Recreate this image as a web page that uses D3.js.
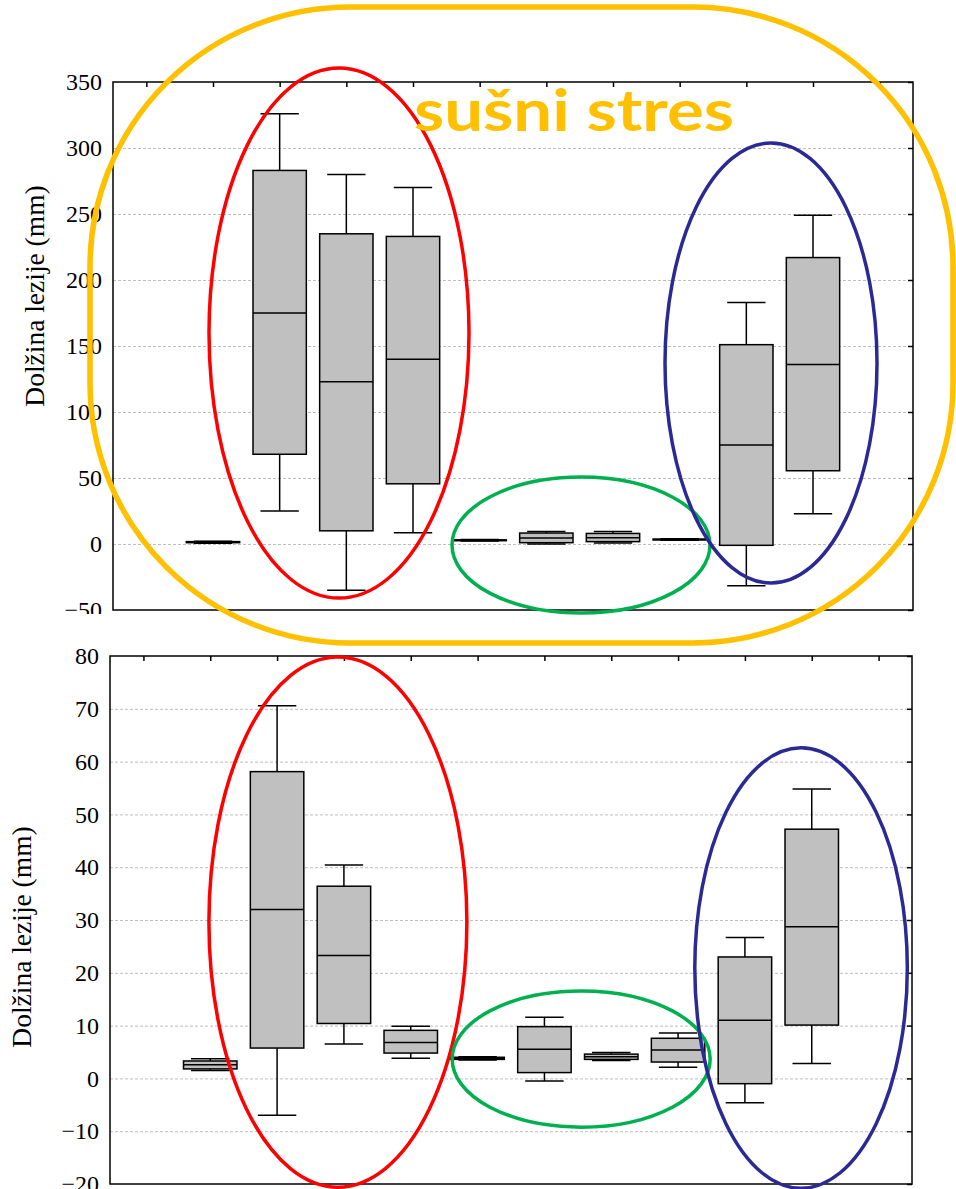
<!DOCTYPE html>
<html>
<head>
<meta charset="utf-8">
<script src="https://cdn.jsdelivr.net/npm/d3@7"></script>
<style>
  body { margin: 0; background: #fff; }
  svg { display: block; }
  .serif { font-family: "Liberation Serif", "Times New Roman", serif; }
</style>
</head>
<body>
<div id="chart"></div>
<script>
// 10 groups, placed in slots 1..10 of 12 (first and last slot empty)
const slots = d3.range(12);
const groups = d3.range(1, 11);

// top panel (sušni stres)
const topTicks = [-50, 0, 50, 100, 150, 200, 250, 300, 350];
const topMin = [0.5, 25, -35, 8.5, 2.2, 0.0, 0.8, 2.9, -31.6, 23];
const topQ1  = [1.0, 68, 10, 45.6, 2.5, 1.0, 1.8, 3.1, -1.0, 55.5];
const topMed = [1.4, 175, 123, 140, 2.8, 4.5, 4.8, 3.4, 75, 136];
const topQ3  = [1.8, 283, 235, 233, 3.1, 8.3, 8.0, 3.7, 151, 217];
const topMax = [2.1, 326, 280, 270, 3.4, 9.5, 9.5, 3.9, 183, 249];

// bottom panel
const botTicks = [-20, -10, 0, 10, 20, 30, 40, 50, 60, 70, 80];
const botMin = [1.5, -7.0, 6.5, 3.8, 3.5, -0.5, 3.4, 2.1, -4.6, 2.8];
const botQ1  = [1.8, 5.75, 10.4, 4.8, 3.6, 1.1, 3.6, 3.1, -1.0, 10.1];
const botMed = [2.6, 32, 23.3, 6.8, 3.8, 5.5, 4.1, 5.4, 11.0, 28.7];
const botQ3  = [3.3, 58.1, 36.4, 9.1, 4.0, 9.8, 4.6, 7.6, 23.0, 47.2];
const botMax = [3.7, 70.6, 40.4, 9.9, 4.1, 11.6, 4.9, 8.6, 26.7, 54.8];

const yLabel = "Dolžina lezije (mm)";
const stressLabel = "sušni stres";

const W = 956, H = 1189;
const svg = d3.select("#chart").append("svg")
  .attr("width", W).attr("height", H)
  .attr("viewBox", "0 0 " + W + " " + H);

function drawPanel(p) {
  const x = d3.scaleLinear().domain([-0.5, 11.5]).range([p.left, p.right]);
  const y = d3.scaleLinear().domain(d3.extent(p.ticks)).range([p.bottom, p.top]);
  const w = p.right - p.left;
  const slotW = x(1) - x(0);

  const g = svg.append("g");

  if (p.bg) {
    g.append("rect").attr("x", 0).attr("y", p.bgTop)
      .attr("width", W).attr("height", H - p.bgTop).attr("fill", "#fff");
  }

  // grid
  g.append("g")
    .attr("transform", "translate(" + p.left + ",0)")
    .call(d3.axisLeft(y).tickValues(p.ticks.slice(1, -1)).tickSize(-w).tickFormat(""))
    .call(s => s.select(".domain").remove())
    .call(s => s.selectAll("line").attr("stroke", "#bdbdbd").attr("stroke-dasharray", "3,2").attr("stroke-width", 1));

  // left labels
  g.append("g")
    .attr("transform", "translate(" + p.left + ",0)")
    .call(d3.axisLeft(y).tickValues(p.ticks).tickSize(0).tickPadding(11))
    .call(s => s.select(".domain").remove())
    .call(s => s.attr("font-family", null).attr("font-size", null))
    .call(s => s.selectAll("text").attr("class", "serif").style("font-size", "24px").attr("fill", "#000"));

  // right ticks (inward)
  g.append("g")
    .attr("transform", "translate(" + p.right + ",0)")
    .call(d3.axisRight(y).tickValues(p.ticks).tickSize(-5).tickFormat(""))
    .call(s => s.select(".domain").remove())
    .call(s => s.selectAll("line").attr("stroke", "#000").attr("stroke-width", 1.5));

  // top ticks (inward)
  g.append("g")
    .attr("transform", "translate(0," + p.top + ")")
    .call(d3.axisTop(x).tickValues(slots).tickSize(-5).tickFormat(""))
    .call(s => s.select(".domain").remove())
    .call(s => s.selectAll("line").attr("stroke", "#000").attr("stroke-width", 1.5));

  // boxes
  const rows = groups.map((k, i) => ({
    k: k, min: p.min[i], q1: p.q1[i], med: p.med[i], q3: p.q3[i], max: p.max[i]
  }));
  const bw = slotW * 0.8, cw = slotW * 0.575;
  const box = g.append("g").selectAll("g").data(rows).join("g")
    .attr("stroke", "#000").attr("stroke-width", 1.5);
  box.append("line")
    .attr("x1", d => x(d.k)).attr("x2", d => x(d.k))
    .attr("y1", d => y(d.max)).attr("y2", d => y(d.min));
  box.append("line")
    .attr("x1", d => x(d.k) - cw / 2).attr("x2", d => x(d.k) + cw / 2)
    .attr("y1", d => y(d.max)).attr("y2", d => y(d.max));
  box.append("line")
    .attr("x1", d => x(d.k) - cw / 2).attr("x2", d => x(d.k) + cw / 2)
    .attr("y1", d => y(d.min)).attr("y2", d => y(d.min));
  box.append("rect")
    .attr("x", d => x(d.k) - bw / 2).attr("width", bw)
    .attr("y", d => y(d.q3)).attr("height", d => y(d.q1) - y(d.q3))
    .attr("fill", "#c0c0c0");
  box.append("line")
    .attr("x1", d => x(d.k) - bw / 2).attr("x2", d => x(d.k) + bw / 2)
    .attr("y1", d => y(d.med)).attr("y2", d => y(d.med));

  // frame
  g.append("rect")
    .attr("x", p.left).attr("y", p.top)
    .attr("width", w).attr("height", p.bottom - p.top)
    .attr("fill", "none").attr("stroke", "#000").attr("stroke-width", 1.5);

  // y title
  g.append("text")
    .attr("class", "serif")
    .attr("transform", "translate(" + p.labelX + "," + p.labelY + ") rotate(-90)")
    .attr("text-anchor", "middle").attr("dominant-baseline", "middle")
    .style("font-size", "27.5px")
    .text(yLabel);

  return { x: x, y: y };
}

const topSc = drawPanel({
  left: 113, right: 913, top: 82, bottom: 610,
  ticks: topTicks, min: topMin, q1: topQ1, med: topMed, q3: topQ3, max: topMax,
  labelX: 38, labelY: 296
});

const botSc = drawPanel({
  left: 110, right: 912, top: 656, bottom: 1184, bg: true, bgTop: 614,
  ticks: botTicks, min: botMin, q1: botQ1, med: botMed, q3: botQ3, max: botMax,
  labelX: 25, labelY: 937
});

// annotation ellipses, in data units (slot index, value)
function ring(sc, e, color, sw) {
  svg.append("ellipse")
    .attr("cx", sc.x(e.cx)).attr("cy", sc.y(e.cy))
    .attr("rx", sc.x(e.cx + e.rx) - sc.x(e.cx))
    .attr("ry", sc.y(e.cy - e.ry) - sc.y(e.cy))
    .attr("fill", "none").attr("stroke", color).attr("stroke-width", sw);
}

ring(topSc, { cx: 2.89, cy: 159.8, rx: 1.95, ry: 200.8 }, "#ff0000", 3.5);
ring(topSc, { cx: 6.52, cy: -0.8, rx: 1.935, ry: 51.5 }, "#00b050", 3.5);
ring(topSc, { cx: 9.37, cy: 137.1, rx: 1.59, ry: 166.7 }, "#2b2a94", 3.5);

ring(botSc, { cx: 2.91, cy: 29.6, rx: 1.93, ry: 50.2 }, "#ff0000", 3.5);
ring(botSc, { cx: 6.55, cy: 3.67, rx: 1.93, ry: 12.9 }, "#00b050", 3.5);
ring(botSc, { cx: 9.84, cy: 20.9, rx: 1.59, ry: 41.7 }, "#2b2a94", 3.5);

// drought stress frame (rounded rectangle) around top panel
const yx0 = topSc.x(-0.845), yx1 = topSc.x(12.1);
const yy0 = topSc.y(406.8), yy1 = topSc.y(-75);
svg.append("rect")
  .attr("x", yx0).attr("y", yy0)
  .attr("width", yx1 - yx0).attr("height", yy1 - yy0)
  .attr("rx", 260).attr("ry", 260)
  .attr("fill", "none").attr("stroke", "#ffc000").attr("stroke-width", 5.5);

svg.append("text")
  .attr("x", topSc.x(6.415)).attr("y", topSc.y(312.9))
  .attr("text-anchor", "middle")
  .attr("font-family", "Lato, 'Open Sans', sans-serif")
  .attr("font-weight", "bold").attr("font-size", 58)
  .attr("textLength", 320).attr("lengthAdjust", "spacingAndGlyphs")
  .attr("fill", "#ffc000")
  .text(stressLabel);
</script>
</body>
</html>
